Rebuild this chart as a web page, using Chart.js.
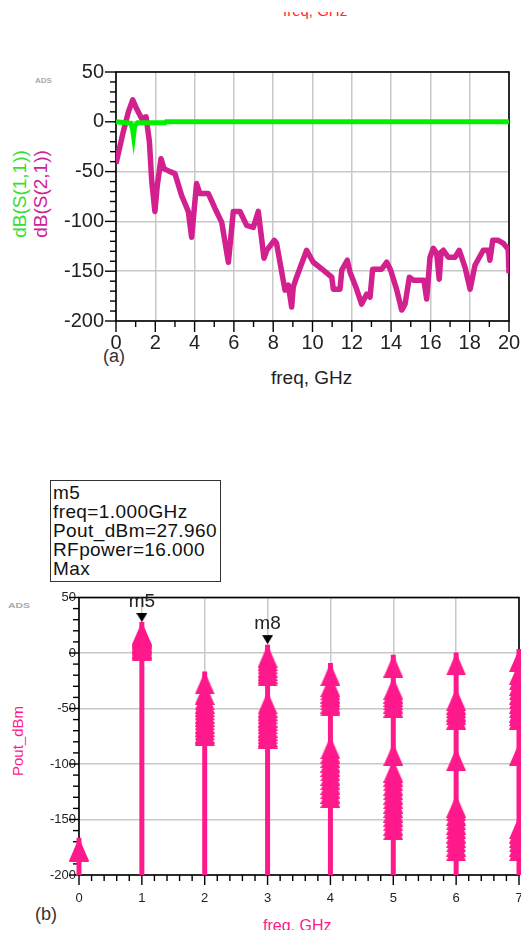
<!DOCTYPE html>
<html>
<head>
<meta charset="utf-8">
<script src="https://cdn.jsdelivr.net/npm/chart.js@4.4.1/dist/chart.umd.min.js"></script>
<style>
  body { margin: 0; background: #fff; width: 521px; height: 930px; overflow: hidden; position: relative;
         font-family: Arial, "Liberation Sans", sans-serif; }
  .t { position: absolute; white-space: nowrap; line-height: 1; }
  .rot { transform-origin: center center; transform: translate(-50%, -50%) rotate(-90deg); }
  canvas { position: absolute; left: 0; }
  #box { position: absolute; left: 50px; top: 480px; width: 171px; height: 102px; border: 1.5px solid #333;
         font-size: 19px; line-height: 19px; letter-spacing: 0.4px; color: #111; padding: 2px 0 0 2px; box-sizing: border-box; }
</style>
</head>
<body>

<div style="position:absolute;left:0;top:12px;width:521px;height:10px;overflow:hidden">
  <div class="t" style="left:283px;top:-9px;font-size:15px;color:#ff2a2a">freq, GHz</div>
</div>

<div class="t" style="left:35px;top:77px;font-size:8px;font-weight:bold;color:#aaa">ADS</div>
<div class="t rot" style="left:19px;top:194px;font-size:19px;color:#33e033">dB(S(1,1))</div>
<div class="t rot" style="left:40px;top:194px;font-size:19px;color:#cc2299">dB(S(2,1))</div>
<div class="t" style="left:103px;top:347px;font-size:18px;color:#333">(a)</div>
<div class="t" style="left:271px;top:368px;font-size:19px;color:#222">freq, GHz</div>

<canvas id="chartA" width="521" height="340" style="top:60px"></canvas>

<div id="box">m5<br>freq=1.000GHz<br>Pout_dBm=27.960<br>RFpower=16.000<br>Max</div>

<div class="t" style="left:8px;top:602px;font-size:8px;font-weight:bold;color:#aaa;transform:scaleX(1.3);transform-origin:left">ADS</div>
<div class="t rot" style="left:17px;top:741px;font-size:15px;color:#ff1a8c">Pout_dBm</div>
<div class="t" style="left:35px;top:905px;font-size:18px;color:#333">(b)</div>
<div class="t" style="left:263px;top:918px;font-size:16px;color:#ff1a8c">freq, GHz</div>

<canvas id="chartB" width="530" height="345" style="top:585px"></canvas>

<script>
// ---- (a) S-parameters ----
const s21Freq = [0, 0.37, 0.63, 0.85, 1.05, 1.31, 1.53, 1.70, 1.82, 1.98, 2.10, 2.29, 2.44, 2.75, 3.00, 3.34, 3.68, 3.85, 3.97, 4.10,
  4.27, 4.70, 5.04, 5.38, 5.72, 5.97, 6.31, 6.65, 6.99, 7.24, 7.41, 7.53, 7.67, 8.05, 8.17, 8.60, 8.77, 8.94, 9.02, 9.19,
  9.70, 10.04, 10.55, 10.98, 11.06, 11.40, 11.49, 11.77, 11.91, 12.21, 12.50, 12.76, 12.93, 13.06, 13.52, 13.78, 13.98, 14.29, 14.54, 14.71,
  14.93, 15.13, 15.67, 15.81, 15.98, 16.15, 16.32, 16.45, 16.54, 16.66, 16.91, 17.25, 17.47, 17.76, 18.02, 18.27, 18.69, 18.95, 19.03, 19.17,
  19.45, 19.71, 19.96, 20];
const s21Db = [-42, -10, 10, 22, 13, 3, 5, -20, -60, -90, -64, -37, -47, -50, -52, -74, -90, -116, -90, -62,
  -72, -72, -87, -101, -141, -90, -90, -104, -106, -90, -117, -137, -129, -119, -122, -169, -164, -186, -166, -156,
  -129, -141, -149, -156, -168, -168, -149, -139, -151, -166, -183, -173, -176, -148, -148, -141, -149, -169, -189, -183,
  -156, -159, -159, -178, -136, -127, -132, -158, -131, -129, -136, -136, -129, -146, -168, -144, -129, -129, -139, -119,
  -119, -122, -128, -152];
const s11Freq = [0, 0.5, 0.75, 0.84, 0.89, 0.95, 1.1, 2.5, 2.55, 20];
const s11Db = [0, -1, -1.5, -7, -14, -4, -1, -1, 0, 0];
const freqTicksA = [0, 2, 4, 6, 8, 10, 12, 14, 16, 18, 20];
const dbTicksA = [50, 0, -50, -100, -150, -200];

// ---- (b) harmonic spectrum, one list of Pout_dBm per harmonic (RF power sweep) ----
const harmFreq = [0, 1, 2, 3, 4, 5, 6, 7];
const poutH0 = [-166.5, -167.5];
const poutH1 = [27.96, 27.2, 26.3, 25.3, 24.2, 23.1, 22, 20.9, 19.8, 18.7, 17.6, 16.5, 15.4, 14.3, 13.2];
const poutH2 = [-16.6, -26, -31, -34, -37, -40, -43, -46, -49, -52, -55, -58, -61, -62.8];
const poutH3 = [7.5, 4.5, 1.5, -1.5, -4.5, -7, -9.4, -34.6, -37.5, -40.5, -43.5, -46.5, -49.5, -52.5, -55.5, -58.5, -61.5, -64, -65.8];
const poutH4 = [-9, -19, -22, -25, -28, -31, -34, -36.4, -75, -79, -83, -87, -91, -95, -99, -103, -107, -111, -115, -119];
const poutH5 = [-1.5, -21.6, -25, -28, -31, -34, -37.8, -81, -96, -100, -104, -108, -112, -116, -120, -124, -128, -132, -136, -140, -144, -148];
const poutH6 = [0.5, -31.5, -35, -38, -41, -44, -48.4, -85.6, -127.7, -131, -135, -139, -143, -147, -151, -155, -159, -163, -167];
const poutH7 = [3.6, -8, -13, -18, -22, -26, -30, -34, -38, -42, -45, -48.4, -81, -147, -151, -155, -159, -163, -167];
const poutByHarm = [poutH0, poutH1, poutH2, poutH3, poutH4, poutH5, poutH6, poutH7];
const markerNames = ['m5', 'm8'];
const markerFreq = [1, 3];
const markerPout = [27.96, 8];
const freqTicksB = [0, 1, 2, 3, 4, 5, 6, 7];
const poutTicksB = [50, 0, -50, -100, -150, -200];

const pink = '#ff1a8c';

// triangle symbols: apex (or tip) sits on the data point
const triUp = document.createElement('canvas');
triUp.width = 20; triUp.height = 46;
(function () {
  const c = triUp.getContext('2d');
  c.fillStyle = pink;
  c.beginPath(); c.moveTo(10, 23); c.lineTo(20, 46); c.lineTo(0, 46); c.closePath(); c.fill();
})();
const triDown = document.createElement('canvas');
triDown.width = 11; triDown.height = 20;
(function () {
  const c = triDown.getContext('2d');
  c.fillStyle = '#000';
  c.beginPath(); c.moveTo(0, 1); c.lineTo(11, 1); c.lineTo(5.5, 10); c.closePath(); c.fill();
})();

// frame + major/minor tick marks, ADS style
const adsAxes = {
  id: 'adsAxes',
  beforeDatasetsDraw(chart, args, o) {
    const { ctx, chartArea: a } = chart;
    const x = chart.scales.x, y = chart.scales.y;
    ctx.save();
    ctx.strokeStyle = '#000';
    ctx.lineWidth = 1.6;
    ctx.strokeRect(a.left, a.top, a.right - a.left, a.bottom - a.top);
    ctx.lineWidth = 1.4;
    const nx = Math.round((x.max - x.min) / o.xMinor);
    for (let i = 0; i <= nx; i++) {
      const px = x.getPixelForValue(x.min + i * o.xMinor);
      const len = i % o.xEvery === 0 ? o.major : o.minor;
      ctx.beginPath(); ctx.moveTo(px, a.bottom); ctx.lineTo(px, a.bottom + len); ctx.stroke();
    }
    const ny = Math.round((y.max - y.min) / o.yMinor);
    for (let i = 0; i <= ny; i++) {
      const py = y.getPixelForValue(y.min + i * o.yMinor);
      const len = i % o.yEvery === 0 ? o.major : o.minor;
      ctx.beginPath(); ctx.moveTo(a.left - len, py); ctx.lineTo(a.left, py); ctx.stroke();
    }
    ctx.restore();
  }
};

const markerLabels = {
  id: 'markerLabels',
  afterDatasetsDraw(chart) {
    if (chart.canvas.id !== 'chartB') return;
    const ctx = chart.ctx;
    ctx.save();
    ctx.font = '19px Arial, "Liberation Sans", sans-serif';
    ctx.fillStyle = '#222';
    ctx.textAlign = 'center';
    ctx.textBaseline = 'alphabetic';
    markerNames.forEach((n, i) => {
      const px = chart.scales.x.getPixelForValue(markerFreq[i]);
      const py = chart.scales.y.getPixelForValue(markerPout[i]);
      ctx.fillText(n, px, py - 15);
    });
    ctx.restore();
  }
};

// keep the plot frame exactly where the layout padding puts it
function fixSize(prop, size) {
  return s => {
    s[prop] = size;
    s.paddingTop = s.paddingBottom = s.paddingLeft = s.paddingRight = 0;
  };
}

const gridColor = '#c8c8c8';
const fontFam = 'Arial, "Liberation Sans", sans-serif';

new Chart(document.getElementById('chartA'), {
  type: 'scatter',
  data: {
    datasets: [
      {
        label: 'dB(S(1,1))',
        data: s11Freq.map((f, i) => ({ x: f, y: s11Db[i] })),
        showLine: true, borderColor: '#00f000', borderWidth: 5, pointRadius: 0, tension: 0
      },
      {
        label: 'dB(S(2,1))',
        data: s21Freq.map((f, i) => ({ x: f, y: s21Db[i] })),
        showLine: true, borderColor: '#d2208e', borderWidth: 5.5, pointRadius: 0, tension: 0,
        borderJoinStyle: 'round'
      }
    ]
  },
  options: {
    responsive: false,
    animation: false,
    layout: { padding: { top: 12, right: 12, left: 0, bottom: 0 } },
    plugins: { legend: { display: false }, tooltip: { enabled: false }, adsAxes: { xMinor: 1, xEvery: 2, yMinor: 10, yEvery: 5, major: 11, minor: 6 } },
    scales: {
      x: {
        type: 'linear', min: 0, max: 20,
        afterBuildTicks: s => { s.ticks = freqTicksA.map(v => ({ value: v })); },
        afterFit: fixSize('height', 79),
        grid: { color: gridColor, lineWidth: 1.5, drawTicks: false },
        border: { display: false },
        ticks: { color: '#222', font: { size: 20, family: fontFam }, padding: 10, maxRotation: 0 }
      },
      y: {
        type: 'linear', min: -200, max: 50,
        afterBuildTicks: s => { s.ticks = dbTicksA.map(v => ({ value: v })); },
        afterFit: fixSize('width', 116),
        grid: { color: gridColor, lineWidth: 1.5, drawTicks: false },
        border: { display: false },
        ticks: { color: '#222', font: { size: 20, family: fontFam }, padding: 12 }
      }
    }
  },
  plugins: [adsAxes]
});

const harmPoints = [];
poutByHarm.forEach((list, h) => list.forEach(v => harmPoints.push({ x: harmFreq[h], y: v })));

const stemSets = harmFreq.map((f, h) => ({
  data: [{ x: f, y: -200 }, { x: f, y: Math.max(...poutByHarm[h]) }],
  showLine: true, borderColor: pink, borderWidth: 5, pointRadius: 0, borderCapStyle: 'butt', clip: false
}));

new Chart(document.getElementById('chartB'), {
  type: 'scatter',
  data: {
    datasets: [
      {
        label: 'markers',
        data: markerFreq.map((f, i) => ({ x: f, y: markerPout[i] })),
        pointStyle: triDown, pointRadius: 5, clip: false
      },
      {
        label: 'Pout_dBm',
        data: harmPoints,
        pointStyle: triUp, pointRadius: 10, clip: false
      },
      ...stemSets
    ]
  },
  options: {
    responsive: false,
    animation: false,
    layout: { padding: { top: 12.5, right: 11, left: 0, bottom: 0 } },
    plugins: { legend: { display: false }, tooltip: { enabled: false }, adsAxes: { xMinor: 0.2, xEvery: 5, yMinor: 10, yEvery: 5, major: 10, minor: 6 } },
    scales: {
      x: {
        type: 'linear', min: 0, max: 7,
        afterBuildTicks: s => { s.ticks = freqTicksB.map(v => ({ value: v })); },
        afterFit: fixSize('height', 55),
        grid: { color: gridColor, lineWidth: 1.5, drawTicks: false },
        border: { display: false },
        ticks: { color: '#222', font: { size: 13, family: fontFam }, padding: 16, maxRotation: 0 }
      },
      y: {
        type: 'linear', min: -200, max: 50,
        afterBuildTicks: s => { s.ticks = poutTicksB.map(v => ({ value: v })); },
        afterFit: fixSize('width', 79),
        grid: { color: gridColor, lineWidth: 1.5, drawTicks: false },
        border: { display: false },
        ticks: { color: '#222', font: { size: 13, family: fontFam }, padding: 3 }
      }
    }
  },
  plugins: [adsAxes, markerLabels]
});
</script>
</body>
</html>
